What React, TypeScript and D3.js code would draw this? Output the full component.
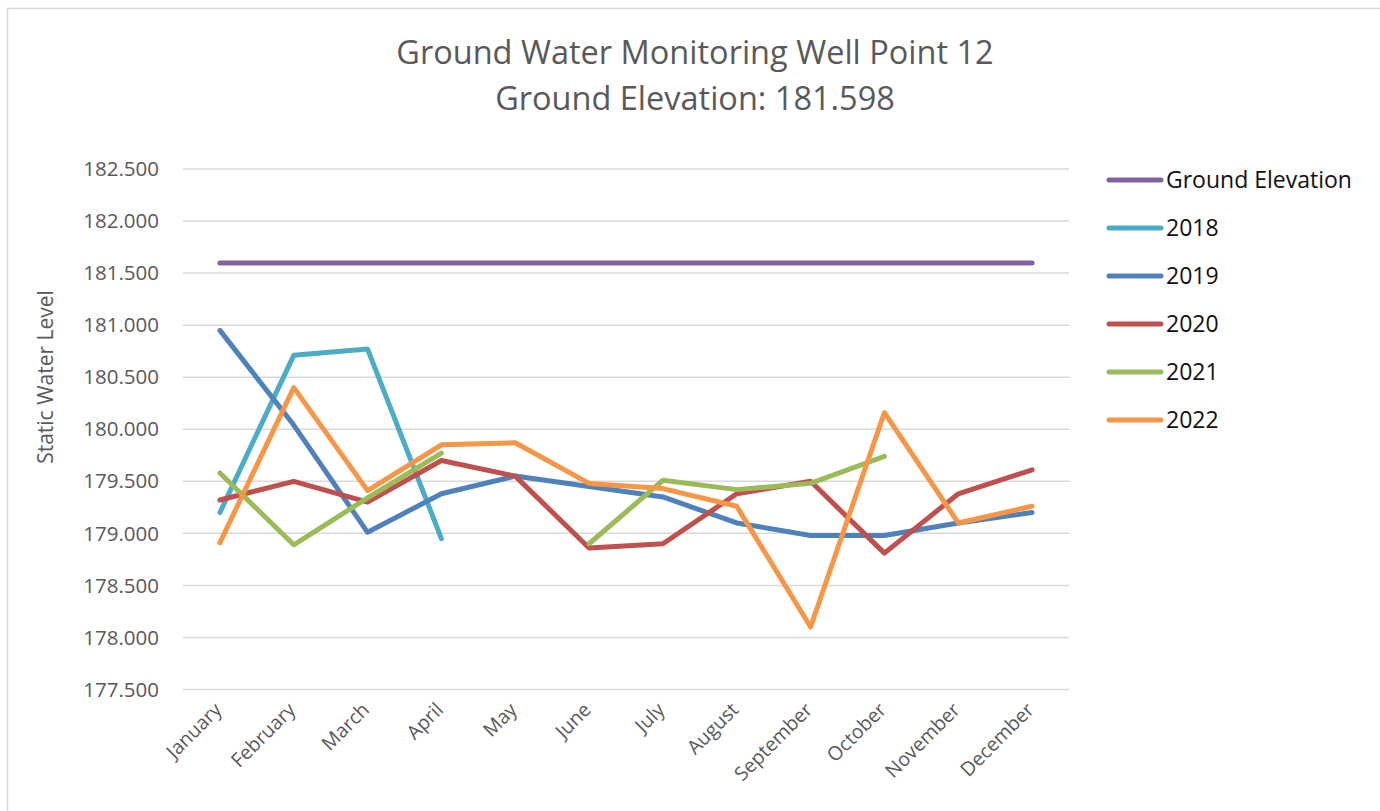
import * as d3 from "d3";
import React, { useEffect, useRef } from "react";

// Datos
const months = [
  "January", "February", "March", "April", "May", "June",
  "July", "August", "September", "October", "November", "December",
];

const groundElevation = [181.598, 181.598, 181.598, 181.598, 181.598, 181.598, 181.598, 181.598, 181.598, 181.598, 181.598, 181.598];
const y2018 = [179.2, 180.71, 180.77, 178.95, null, null, null, null, null, null, null, null];
const y2019 = [180.95, 180.04, 179.01, 179.38, 179.55, 179.45, 179.35, 179.1, 178.98, 178.98, 179.1, 179.2];
const y2020 = [179.32, 179.5, 179.3, 179.7, 179.55, 178.86, 178.9, 179.38, 179.5, 178.81, 179.38, 179.61];
const y2021 = [179.58, 178.89, 179.34, 179.77, null, 178.9, 179.51, 179.42, 179.48, 179.74, null, null];
const y2022 = [178.91, 180.4, 179.41, 179.85, 179.87, 179.48, 179.43, 179.26, 178.1, 180.16, 179.1, 179.26];

const yTicks = [177.5, 178, 178.5, 179, 179.5, 180, 180.5, 181, 181.5, 182, 182.5];

const series = [
  { name: "Ground Elevation", values: groundElevation, color: "#8064A2" },
  { name: "2018", values: y2018, color: "#4BACC6" },
  { name: "2019", values: y2019, color: "#4F81BD" },
  { name: "2020", values: y2020, color: "#C0504D" },
  { name: "2021", values: y2021, color: "#9BBB59" },
  { name: "2022", values: y2022, color: "#F79646" },
];

const FONT = "'Open Sans', 'Noto Sans', sans-serif";

function Grafica() {
  const ref = useRef<SVGSVGElement>(null);

  useEffect(() => {
    const width = 1380;
    const height = 811;
    const svg = d3.select(ref.current);
    svg.selectAll("*").remove();

    svg.attr("width", width).attr("height", height);

    // marco del gráfico
    svg
      .append("rect")
      .attr("x", 7.5)
      .attr("y", 8.5)
      .attr("width", width)
      .attr("height", height)
      .attr("fill", "#ffffff")
      .attr("stroke", "#D9D9D9")
      .attr("stroke-width", 1.5);

    const x = d3.scaleBand().domain(months).range([183, 1069]).padding(0);
    const cx = (m: string) => (x(m) as number) + x.bandwidth() / 2;
    const y = d3.scaleLinear().domain([177.5, 182.5]).range([689.5, 169]);

    // título
    const title = svg
      .append("text")
      .attr("text-anchor", "middle")
      .attr("font-family", FONT)
      .attr("font-size", 32.5)
      .attr("fill", "#595959");
    title.append("tspan").attr("x", 695).attr("y", 64).text("Ground Water Monitoring Well Point 12");
    title.append("tspan").attr("x", 695).attr("y", 110).text("Ground Elevation: 181.598");

    // líneas de la cuadrícula
    svg
      .append("g")
      .selectAll("line")
      .data(yTicks)
      .enter()
      .append("line")
      .attr("x1", 183)
      .attr("x2", 1069)
      .attr("y1", (d) => y(d))
      .attr("y2", (d) => y(d))
      .attr("stroke", "#D9D9D9")
      .attr("stroke-width", 1.5);

    // etiquetas del eje Y
    svg
      .append("g")
      .selectAll("text")
      .data(yTicks)
      .enter()
      .append("text")
      .attr("x", 159)
      .attr("y", (d) => y(d))
      .attr("dy", "0.35em")
      .attr("text-anchor", "end")
      .attr("font-family", FONT)
      .attr("font-size", 20.5)
      .attr("fill", "#595959")
      .text((d) => d3.format(".3f")(d));

    // etiquetas del eje X
    svg
      .append("g")
      .selectAll("text")
      .data(months)
      .enter()
      .append("text")
      .attr("transform", (d) => `translate(${cx(d) + 3}, ${711}) rotate(-45)`)
      .attr("text-anchor", "end")
      .attr("font-family", FONT)
      .attr("font-size", 19.5)
      .attr("fill", "#595959")
      .text((d) => d);

    // título del eje Y
    svg
      .append("text")
      .attr("transform", `translate(53, 377) rotate(-90)`)
      .attr("text-anchor", "middle")
      .attr("font-family", FONT)
      .attr("font-size", 21)
      .attr("fill", "#595959")
      .text("Static Water Level");

    // series
    const lineGen = d3
      .line<number | null>()
      .defined((d) => d !== null)
      .x((_, i) => cx(months[i]))
      .y((d) => y(d as number));

    svg
      .append("g")
      .selectAll("path")
      .data(series)
      .enter()
      .append("path")
      .attr("d", (s) => lineGen(s.values))
      .attr("fill", "none")
      .attr("stroke", (s) => s.color)
      .attr("stroke-width", 5)
      .attr("stroke-linecap", "round")
      .attr("stroke-linejoin", "round");

    // leyenda
    const legend = svg
      .append("g")
      .selectAll("g")
      .data(series)
      .enter()
      .append("g")
      .attr("transform", (_, i) => `translate(1109, ${180 + i * 48})`);

    legend
      .append("line")
      .attr("x1", 0)
      .attr("x2", 52)
      .attr("stroke", (s) => s.color)
      .attr("stroke-width", 5)
      .attr("stroke-linecap", "round");

    legend
      .append("text")
      .attr("x", 57)
      .attr("dy", "0.35em")
      .attr("font-family", FONT)
      .attr("font-size", 23)
      .attr("fill", "#111111")
      .text((s) => s.name);
  }, []);

  return (
    <svg
      ref={ref}
      style={{ position: "absolute", left: 0, top: 0, display: "block" }}
    />
  );
}

export default function App() {
  return <Grafica />;
}
